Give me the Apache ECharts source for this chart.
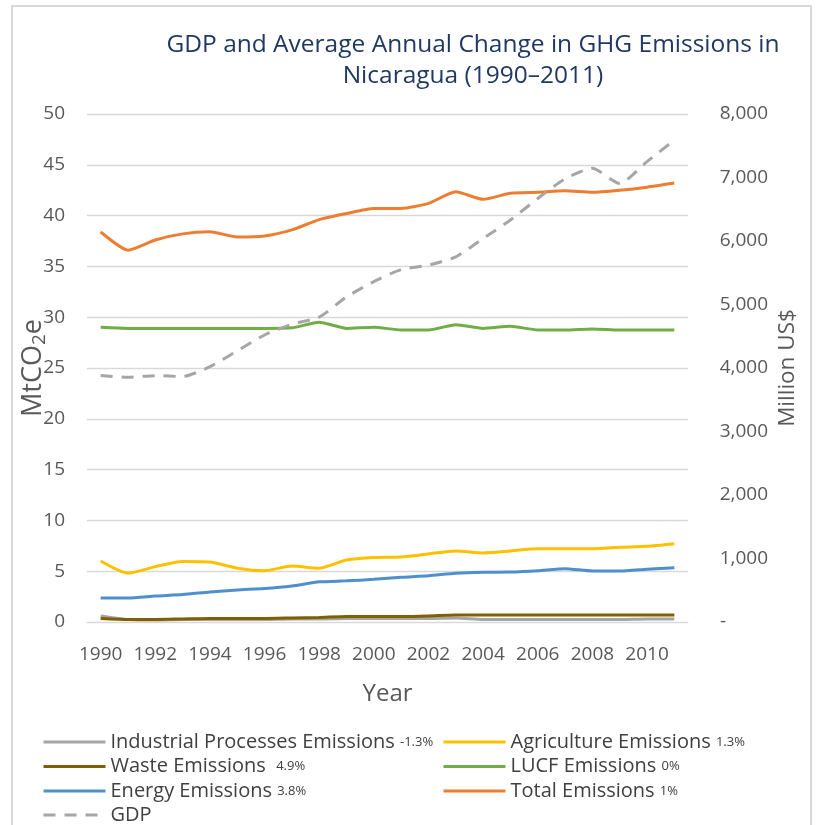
<!DOCTYPE html>
<html><head><meta charset="utf-8">
<script src="https://cdn.jsdelivr.net/npm/echarts@6/dist/echarts.min.js"></script>
<style>html,body{margin:0;padding:0;background:#fff}#c{width:817px;height:825px}</style>
</head><body><div id="c"></div>
<script>
const years = ['1990','1991','1992','1993','1994','1995','1996','1997','1998','1999','2000','2001','2002','2003','2004','2005','2006','2007','2008','2009','2010','2011'];
const industrial = [0.6,0.25,0.2,0.25,0.25,0.25,0.25,0.3,0.3,0.35,0.35,0.35,0.35,0.4,0.25,0.25,0.25,0.25,0.25,0.25,0.3,0.3];
const agriculture = [6.0,4.8,5.45,5.95,5.9,5.3,5.05,5.5,5.3,6.1,6.35,6.4,6.7,7.0,6.8,7.0,7.2,7.2,7.2,7.35,7.45,7.7];
const waste = [0.35,0.25,0.25,0.3,0.35,0.35,0.35,0.4,0.45,0.55,0.55,0.55,0.6,0.7,0.7,0.7,0.7,0.7,0.7,0.7,0.7,0.7];
const lucf = [29.0,28.9,28.9,28.9,28.9,28.9,28.9,28.95,29.5,28.9,29.0,28.75,28.75,29.25,28.9,29.1,28.75,28.75,28.85,28.75,28.75,28.75];
const energy = [2.35,2.35,2.55,2.7,2.95,3.15,3.3,3.55,3.95,4.05,4.2,4.4,4.55,4.8,4.9,4.92,5.05,5.25,5.02,5.02,5.2,5.35];
const total = [38.4,36.6,37.6,38.2,38.4,37.9,38.0,38.6,39.6,40.2,40.7,40.7,41.2,42.35,41.6,42.2,42.3,42.45,42.3,42.5,42.8,43.2];
const gdp = [3880,3855,3880,3865,4020,4270,4520,4690,4800,5120,5360,5550,5620,5750,6040,6330,6670,6980,7145,6905,7250,7590];
const leftTicks = {min:0, max:50, interval:5};
const rightTicks = {min:0, max:8000, interval:1000};

const names = {
  industrial:'Industrial Processes Emissions', agriculture:'Agriculture Emissions', waste:'Waste Emissions',
  lucf:'LUCF Emissions', energy:'Energy Emissions', total:'Total Emissions', gdp:'GDP'
};
const pct = {
  'Industrial Processes Emissions':' {p|-1.3%}', 'Agriculture Emissions':' {p|1.3%}', 'Waste Emissions':'  {p|4.9%}',
  'LUCF Emissions':' {p|0%}', 'Energy Emissions':' {p|3.8%}', 'Total Emissions':' {p|1%}', 'GDP':''
};
const FONT = 'Open Sans';
const legendBase = {
  orient:'vertical', itemWidth:62, itemHeight:14, itemGap:4.5, padding:0,
  itemStyle:{opacity:0}, lineStyle:{width:3},
  textStyle:{fontFamily:FONT, fontSize:20, color:'#404040', lineHeight:20,
    rich:{p:{fontFamily:FONT, fontSize:13, color:'#404040'}}},
  formatter: n => n + pct[n], selectedMode:false
};
function line(name, data, color, extra){
  return Object.assign({type:'line', name, data, symbol:'none', smooth:0.2,
    lineStyle:{color, width:3}, itemStyle:{color}, z:2}, extra||{});
}
const chart = echarts.init(document.getElementById('c'), null, {renderer:'canvas'});
chart.setOption({
  animation:false,
  backgroundColor:'#fff',
  title:{text:'GDP and Average Annual Change in GHG Emissions in\nNicaragua (1990–2011)', left:468, top:25, textAlign:'center',
    textStyle:{fontFamily:FONT, fontSize:24.5, fontWeight:'normal', color:'#203864', lineHeight:31}},
  graphic:[{type:'rect', shape:{x:12, y:6, width:799, height:840}, style:{fill:'none', stroke:'#d9d9d9', lineWidth:2}, silent:true}],
  grid:{left:87, right:129, top:114, bottom:203, containLabel:false},
  legend:[
    Object.assign({}, legendBase, {left:42, top:732, data:[names.industrial, names.waste, names.energy]}),
    Object.assign({}, legendBase, {left:442, top:732, data:[names.agriculture, names.lucf, names.total]}),
    Object.assign({}, legendBase, {left:42, top:805, data:[names.gdp]})
  ],
  xAxis:{type:'category', data:years, boundaryGap:true,
    axisLine:{lineStyle:{color:'#d9d9d9'}}, axisTick:{show:false},
    axisLabel:{interval:1, fontFamily:FONT, fontSize:19, color:'#595959', margin:23},
    name:'Year', nameLocation:'middle', nameGap:60, nameMoveOverlap:false,
    nameTextStyle:{fontFamily:FONT, fontSize:24, color:'#595959'}},
  yAxis:[
    {type:'value', min:leftTicks.min, max:leftTicks.max, interval:leftTicks.interval,
      axisLine:{show:false}, axisTick:{show:false},
      splitLine:{lineStyle:{color:'#d9d9d9', width:1.3}},
      axisLabel:{fontFamily:FONT, fontSize:19, color:'#595959', margin:22},
      name:'MtCO{s|2}e', nameLocation:'middle', nameRotate:90, nameGap:38, nameMoveOverlap:false,
      nameTextStyle:{fontFamily:FONT, fontSize:27, color:'#595959',
        rich:{s:{fontFamily:FONT, fontSize:19, color:'#595959', verticalAlign:'bottom', padding:[12,0,0,0]}}}},
    {type:'value', min:rightTicks.min, max:rightTicks.max, interval:rightTicks.interval, position:'right',
      axisLine:{show:false}, axisTick:{show:false}, splitLine:{show:false},
      axisLabel:{fontFamily:FONT, fontSize:19, color:'#595959', margin:80, align:'right',
        formatter: v => v === 0 ? '{d|-}' : v.toLocaleString('en-US'),
        rich:{d:{fontFamily:FONT, fontSize:19, color:'#595959', padding:[0,42,0,0]}}},
      name:'Million US$', nameLocation:'middle', nameRotate:90, nameGap:88, nameMoveOverlap:false,
      nameTextStyle:{fontFamily:FONT, fontSize:22.5, color:'#595959'}}
  ],
  series:[
    line(names.industrial, industrial, '#A5A5A5'),
    line(names.agriculture, agriculture, '#FFC000'),
    line(names.waste, waste, '#7F6000'),
    line(names.lucf, lucf, '#70AD47'),
    line(names.energy, energy, '#4F8FCC'),
    line(names.total, total, '#ED7D31'),
    line(names.gdp, gdp, '#A6A6A6', {yAxisIndex:1, lineStyle:{color:'#A6A6A6', width:3, type:[12,9]}})
  ]
});
</script></body></html>
